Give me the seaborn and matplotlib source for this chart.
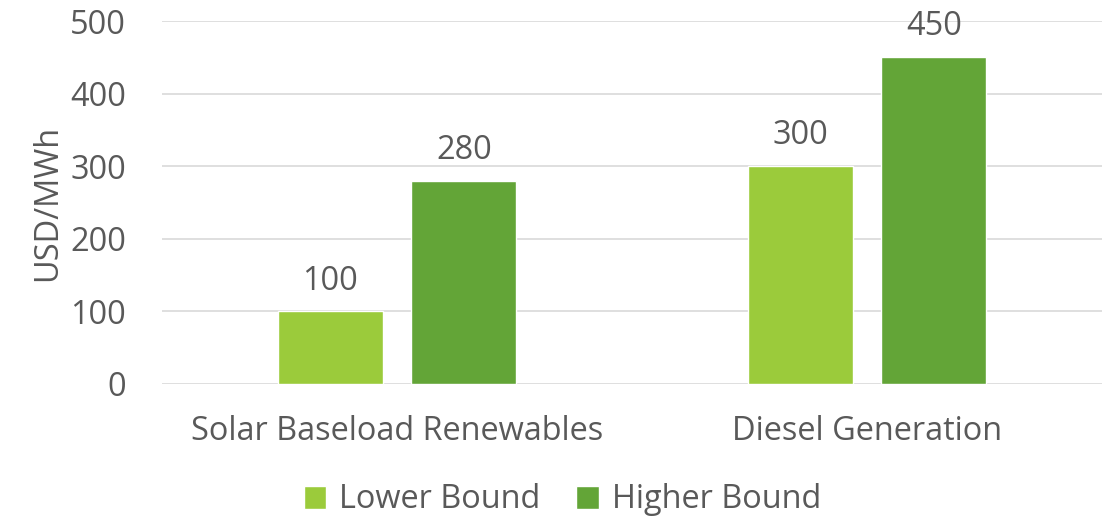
import matplotlib
matplotlib.use("Agg")
import matplotlib.pyplot as plt
import seaborn as sns
import pandas as pd

categories = ["Solar Baseload Renewables", "Diesel Generation"]
series = ["Lower Bound", "Higher Bound"]
lower_bound = [100, 300]
higher_bound = [280, 450]
y_ticks = [0, 100, 200, 300, 400, 500]

df = pd.DataFrame({
    "Technology": categories * 2,
    "Bound": [series[0]] * 2 + [series[1]] * 2,
    "Cost": lower_bound + higher_bound,
})

sns.set_theme(style="white")
plt.rcParams["font.family"] = ["Open Sans", "DejaVu Sans"]
text_color = "#595959"
palette = {"Lower Bound": "#9BCB3B", "Higher Bound": "#63A537"}
fs = 23.4

fig = plt.figure(figsize=(11.14, 5.21), dpi=100)
ax = fig.add_axes([162 / 1114, 1 - 384 / 521, 940 / 1114, (384 - 21) / 521])

sns.barplot(data=df, x="Technology", y="Cost", hue="Bound", order=categories,
            hue_order=series, palette=palette, width=0.57, gap=0.216,
            saturation=1, ax=ax, legend=True, zorder=3)

for container in ax.containers:
    ax.bar_label(container, labels=[f"{v:.0f}" for v in container.datavalues],
                 padding=10, fontsize=fs, color=text_color)

ax.set_ylim(0, 500)
ax.set_yticks(y_ticks)
ax.set_xlim(-0.5, 1.5)
ax.yaxis.grid(True, color="#D9D9D9", linewidth=1.2, zorder=0)
ax.set_axisbelow(True)
for s in ax.spines.values():
    s.set_visible(False)
ax.tick_params(axis="both", length=0, labelsize=fs, labelcolor=text_color)
ax.tick_params(axis="y", pad=26)
ax.tick_params(axis="x", pad=22)
ax.set_xlabel("")
ax.set_ylabel("USD/MWh", fontsize=fs, color=text_color, labelpad=4)

handles, labels = ax.get_legend_handles_labels()
ax.get_legend().remove()
fig.legend(handles, labels, loc="center", bbox_to_anchor=(0.505, 1 - 500 / 521),
           ncol=2, frameon=False, fontsize=fs, labelcolor=text_color,
           handlelength=0.7, handleheight=0.7, handletextpad=0.4,
           columnspacing=1.1)

fig.savefig("out.png", dpi=100)
